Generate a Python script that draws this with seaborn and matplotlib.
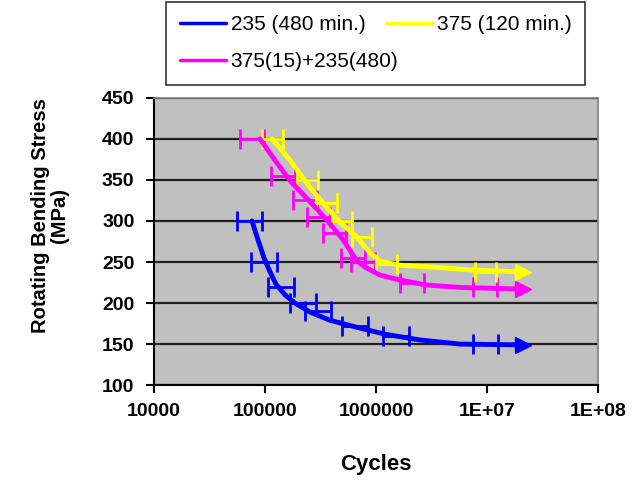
import matplotlib
matplotlib.use('Agg')
import matplotlib.pyplot as plt
import seaborn as sns
from matplotlib.lines import Line2D
from matplotlib.ticker import FixedLocator, FixedFormatter, NullLocator

# measured points: cycles to failure and stress, with scatter bar factor
blue_cycles = [73000, 98000, 139000, 220000, 300000, 647000, 1510000, 9600000]
blue_stress = [300, 250, 220, 200, 190, 172, 160, 150]
blue_spread = 1.30

pink_cycles = [76000, 145000, 229000, 303000, 423000, 621000, 764000, 2110000, 9600000]
pink_stress = [400, 355, 325, 305, 285, 255, 250, 225, 220]
pink_spread = 1.28

yell_cycles = [116000, 241000, 355000, 494000, 748000, 1245000, 9600000]
yell_stress = [400, 350, 322, 300, 280, 248, 238]
yell_spread = 1.24

# fitted curves (last point = run-out arrow)
blue_fit_n = [76400, 86500, 98000, 111000, 125600, 151400, 186000, 254000, 385000,
              647000, 1205000, 2490000, 5710000, 21100000]
blue_fit_s = [300, 277, 255, 238, 223, 210, 200, 189, 179, 171, 162, 155, 150, 149]
pink_fit_n = [90000, 123000, 168000, 244000, 362000, 505000, 675000, 813000,
              1087000, 1645000, 2820000, 5710000, 21100000]
pink_fit_s = [400, 374, 349, 326, 301, 277, 251, 243, 234, 228, 222, 219, 217]
yell_fit_n = [116000, 168000, 229000, 313000, 454000, 675000, 883000, 1087000,
              1645000, 3060000, 7800000, 21100000]
yell_fit_s = [400, 374, 349, 326, 301, 280, 261, 251, 246, 244, 240, 238]

x_ticks = [1e4, 1e5, 1e6, 1e7, 1e8]
x_labels = ['10000', '100000', '1000000', '1E+07', '1E+08']
y_ticks = [100, 150, 200, 250, 300, 350, 400, 450]

labels = ['235 (480 min.)', '375(15)+235(480)', '375 (120 min.)']

sns.set_theme(style='white')
plt.rcParams['font.family'] = ['Liberation Sans', 'DejaVu Sans']
plt.rcParams['text.color'] = 'black'
plt.rcParams['axes.labelcolor'] = 'black'
plt.rcParams['xtick.color'] = 'black'
plt.rcParams['ytick.color'] = 'black'

fig = plt.figure(figsize=(6.44, 4.82), dpi=100)
ax = fig.add_axes([0.239, 0.201, 0.690, 0.596])
ax.set_facecolor('#C0C0C0')

series = [
    (blue_cycles, blue_stress, blue_spread, blue_fit_n, blue_fit_s, '#0000FF'),
    (pink_cycles, pink_stress, pink_spread, pink_fit_n, pink_fit_s, '#FF00FF'),
    (yell_cycles, yell_stress, yell_spread, yell_fit_n, yell_fit_s, '#FFFF00'),
]

for y in y_ticks:
    ax.axhline(y, color='#202020', lw=1.6, zorder=1)

for cyc, st, f, fn, fs, col in series:
    lo = [c - c / f for c in cyc]
    hi = [c * f - c for c in cyc]
    ax.errorbar(cyc, st, xerr=[lo, hi], fmt='none', ecolor=col,
                elinewidth=2.0, capsize=7, capthick=2.0, zorder=3)
    sns.lineplot(x=fn, y=fs, ax=ax, color=col, lw=3.5, sort=False,
                 estimator=None, zorder=4)
    ax.plot(fn[-1:], fs[-1:], marker='>', markersize=12, color=col,
            lw=0, zorder=5)

ax.set_xscale('log')
ax.set_xlim(1e4, 1e8)
ax.set_ylim(100, 450)
ax.xaxis.set_major_locator(FixedLocator(x_ticks))
ax.xaxis.set_major_formatter(FixedFormatter(x_labels))
ax.xaxis.set_minor_locator(NullLocator())
ax.set_yticks(y_ticks)
ax.tick_params(axis='both', direction='out', length=6, width=1.5,
               color='black', labelsize=14, bottom=True, left=True)
ax.tick_params(axis='y', pad=8)
ax.tick_params(axis='x', pad=7)
for lab in ax.get_xticklabels() + ax.get_yticklabels():
    lab.set_fontweight('bold')

for s in ['top', 'right']:
    ax.spines[s].set_color('#808080')
    ax.spines[s].set_linewidth(1.2)
for s in ['left', 'bottom']:
    ax.spines[s].set_color('black')
    ax.spines[s].set_linewidth(1.5)

ax.set_xlabel('Cycles', fontsize=16, fontweight='bold', labelpad=24)
ax.set_ylabel('Rotating Bending Stress\n(MPa)', fontsize=14.5,
              fontweight='bold', linespacing=1.05)
ax.yaxis.set_label_coords(-0.19, 0.59)

handles = [Line2D([], [], color=c, lw=2.5) for c in ['#0000FF', '#FF00FF', '#FFFF00']]
leg = fig.legend(handles, labels, loc='upper left', bbox_to_anchor=(0.258, 0.996),
                 ncol=2, fontsize=15, handlelength=2.2, handletextpad=0.25,
                 columnspacing=-0.6, labelspacing=0.84, fancybox=False,
                 frameon=True, borderpad=0.65, borderaxespad=0)
leg.get_frame().set_edgecolor('black')
leg.get_frame().set_linewidth(1.2)

fig.savefig('out.png', dpi=100)
